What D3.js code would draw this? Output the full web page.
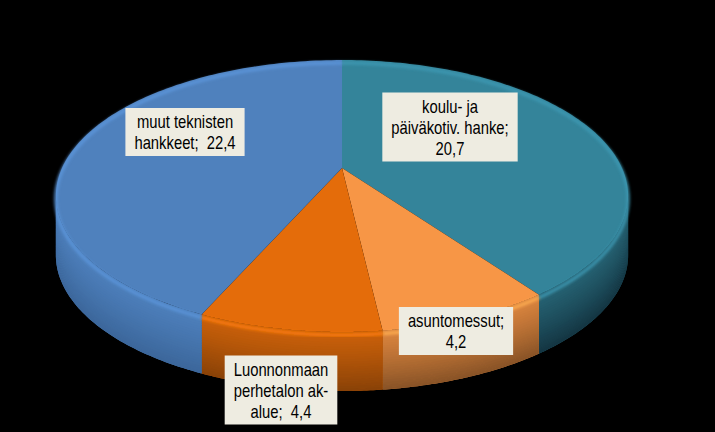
<!DOCTYPE html>
<html>
<head>
<meta charset="utf-8">
<script src="https://cdn.jsdelivr.net/npm/d3@7"></script>
<style>
  html, body { margin: 0; padding: 0; background: #000; }
  svg { display: block; }
</style>
</head>
<body>
<svg id="chart"></svg>
<script>
// data
const categories = ['koulu- ja päiväkotiv. hanke', 'asuntomessut', 'Luonnonmaan perhetalon ak-alue', 'muut teknisten hankkeet'];
const values = [20.7, 4.2, 4.4, 22.4];
// how each data label wraps (last line holds the value)
const labelLines = [
  ['koulu- ja', 'päiväkotiv. hanke;', '{v}'],
  ['asuntomessut;', '{v}'],
  ['Luonnonmaan', 'perhetalon ak-', 'alue;  {v}'],
  ['muut teknisten', 'hankkeet;  {v}']
];

const topColors = ['#34849A', '#F79646', '#E46C0A', '#4F81BD'];
const sideTop = ['#266273', '#D9843E', '#C9600A', '#4D7FBB'];
const sideBottom = ['#143643', '#8A5427', '#8A4207', '#3C679B'];

// label centres (layout)
const labelPos = [[450, 127], [456, 331], [281, 390], [185, 132]];

const width = 715, height = 432;
const svg = d3.select('#chart').attr('width', width).attr('height', height);

// perspective ellipse for the pie top
const cx = 342, cy0 = 168, A = 280, B = 130.2, k = 0.206, depth = 59;
const project = (theta, r = 1) => {
  const u = r * Math.sin(theta), v = r * Math.cos(theta);
  const w = 1 + k * v;
  return [cx + A * u / w, cy0 - B * v / w];
};

const pie = d3.pie().sort(null).value(d => d)(values);

const sample = (a, b, n) => d3.range(n + 1).map(i => a + (b - a) * i / n);
const line = d3.line();

// visible part of the side wall
const sideStart = Math.PI / 2 + Math.asin(k);
const sideEnd = 3 * Math.PI / 2 - Math.asin(k);

const sideLayer = svg.append('g');

// side walls
pie.forEach((p, i) => {
  const a = Math.max(p.startAngle, sideStart);
  const b = Math.min(p.endAngle, sideEnd);
  if (b <= a) return;
  const ts = sample(a, b, 60);
  const topPts = ts.map(t => project(t));
  // base fill for the vertical parts at the ends
  sideLayer.append('path')
    .attr('d', line(topPts.concat(topPts.map(q => [q[0], q[1] + depth]).reverse())) + 'Z')
    .attr('fill', sideTop[i]);
  const color = d3.interpolateRgb(sideTop[i], sideBottom[i]);
  const bands = 24;
  for (let j = 0; j < bands; j++) {
    const d0 = depth * j / bands, d1 = depth * (j + 1) / bands + 0.6;
    const up = topPts.map(q => [q[0], q[1] + d0]);
    const lo = topPts.map(q => [q[0], q[1] + Math.min(d1, depth)]).reverse();
    sideLayer.append('path')
      .attr('d', line(up.concat(lo)) + 'Z')
      .attr('fill', color(Math.pow(j / (bands - 1), 1.2)));
  }
});

const defs = svg.append('defs');
defs.append('filter').attr('id', 'blur')
  .append('feGaussianBlur').attr('stdDeviation', 1.6);

// top faces
pie.forEach((p, i) => {
  const pts = [[cx, cy0]].concat(sample(p.startAngle, p.endAngle, 120).map(t => project(t)));
  svg.append('path')
    .attr('d', line(pts) + 'Z')
    .attr('fill', topColors[i]);
});

// rim bevel
pie.forEach((p, i) => {
  const pts = sample(p.startAngle, p.endAngle, 120).map(t => project(t));
  svg.append('path')
    .attr('d', line(pts.map(q => [q[0], q[1] + 3])))
    .attr('fill', 'none')
    .attr('stroke', d3.color(topColors[i]).brighter(0.4))
    .attr('stroke-width', 3)
    .attr('filter', 'url(#blur)');
});

// data labels
const fmt = v => String(v).replace('.', ',');
const lineH = 21, squeeze = 0.8;
pie.forEach((p, i) => {
  const lines = labelLines[i].map(s => s.replace('{v}', fmt(values[i])));
  const [lx, ly] = labelPos[i];
  const g = svg.append('g').attr('transform', `translate(${lx},${ly})`);
  const rect = g.append('rect').attr('fill', '#EEECE1');
  const text = g.append('text')
    .attr('text-anchor', 'middle')
    .attr('transform', `scale(${squeeze},1)`)
    .attr('xml:space', 'preserve')
    .style('white-space', 'pre')
    .style('font-family', '"Liberation Sans", Arial, sans-serif')
    .style('font-size', '18.5px')
    .attr('fill', '#000');
  const y0 = -(lines.length - 1) * lineH / 2;
  lines.forEach((s, j) => {
    text.append('tspan')
      .attr('x', 0)
      .attr('y', y0 + j * lineH)
      .attr('dy', '0.36em')
      .text(s);
  });
  const tw = d3.max(text.selectAll('tspan').nodes(), n => n.getComputedTextLength()) * squeeze;
  const bw = tw + 18, bh = lines.length * lineH + 6;
  rect.attr('x', -bw / 2).attr('y', -bh / 2).attr('width', bw).attr('height', bh);
});
</script>
</body>
</html>
